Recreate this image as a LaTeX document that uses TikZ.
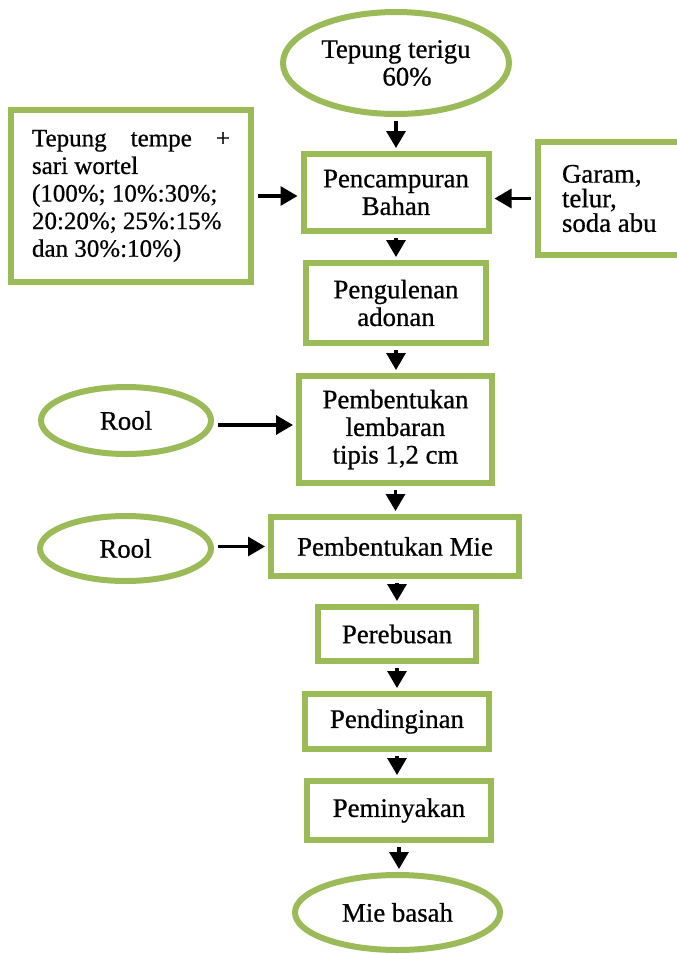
\documentclass[tikz,border=0pt]{standalone}
\usepackage{fontspec}
\setmainfont{Liberation Serif}[FakeBold=0.7]
\usetikzlibrary{shapes.geometric,arrows.meta,calc}

\definecolor{Bingkai}{HTML}{9BBB59}

\begin{document}
\begin{tikzpicture}[x=0.5pt, y=-0.5pt,
  kotak/.style={draw=Bingkai, line width=3pt, rectangle, align=center, inner sep=0pt, font=\fontsize{13.4}{13.8}\selectfont},
  oval/.style={draw=Bingkai, line width=3pt, ellipse, align=center, inner sep=0pt, font=\fontsize{13.4}{13.8}\selectfont},
  panah/.style={-{Triangle[width=9.5pt,length=8.5pt]}, line width=1.6pt, shorten <=2pt, shorten >=1.5pt}]

  \useasboundingbox (0,0) rectangle (676,954);

  %%%%%%%%%%%%%%%% BAHAN %%%%%%%%%%%%%%%%
  \node[oval, minimum width=113pt, minimum height=51pt] (terigu) at (396,63) {Tepung terigu\\\hspace*{11pt}60\%};
  \node[kotak, minimum width=120pt, minimum height=86pt, text width=99pt, align=flush left, font=\fontsize{12.5}{13.8}\selectfont] (tempe) at (131,196)
    {Tepung\hfill tempe\hfill +\\sari wortel\\(100\%; 10\%:30\%;\\20:20\%; 25\%:15\%\\dan 30\%:10\%)};
  \node[kotak, minimum width=76pt, minimum height=56.5pt, text width=52pt, inner xsep=12pt, align=flush left, font=\fontsize{13.4}{12.3}\selectfont] (garam) at (614,198.5) {Garam,\\telur,\\soda abu};

  %%%%%%%%%%%%%%%% PROSES %%%%%%%%%%%%%%%%
  \node[kotak, minimum width=92.5pt, minimum height=38.5pt] (campur) at (396,192.5) {Pencampuran\\Bahan};
  \node[kotak, minimum width=90pt, minimum height=40pt] (uleni) at (396,303) {Pengulenan\\adonan};
  \node[kotak, minimum width=96.5pt, minimum height=53.5pt] (lembar) at (395.5,429.5) {Pembentukan\\lembaran\\tipis 1,2 cm};
  \node[oval, minimum width=85pt, minimum height=33.5pt] (roolA) at (126,420.5) {Rool};
  \node[kotak, minimum width=124pt, minimum height=29.5pt] (bentukmie) at (395,546.5) {Pembentukan Mie};
  \node[oval, minimum width=85.5pt, minimum height=32.5pt] (roolB) at (125.5,548.5) {Rool};
  \node[kotak, minimum width=79pt, minimum height=27pt] (rebus) at (397,634) {Perebusan};
  \node[kotak, minimum width=92pt, minimum height=27.5pt] (dingin) at (397,721.5) {Pendinginan};
  \node[kotak, minimum width=92pt, minimum height=29.5pt] (minyak) at (399,810.5) {Peminyakan};
  \node[oval, minimum width=102.5pt, minimum height=37.5pt] (basah) at (397.5,912.5) {Mie basah};

  % Panah
  \draw[panah] (terigu.south) -- (terigu.south |- campur.north);
  \draw[panah] (tempe.east) -- (tempe.east -| campur.west);
  \draw[panah] (garam.west) -- (garam.west -| campur.east);
  \draw[panah] (campur.south) -- (campur.south |- uleni.north);
  \draw[panah] (uleni.south) -- (uleni.south |- lembar.north);
  \coordinate (tengahA) at ($(roolA.east)!0.5!(lembar.west)$);
  \draw[panah] (roolA.east |- tengahA) -- (lembar.west |- tengahA);
  \draw[panah] (lembar.south) -- (lembar.south |- bentukmie.north);
  \draw[panah] (roolB.east |- bentukmie.west) -- (bentukmie.west);
  \draw[panah] (rebus.north |- bentukmie.south) -- (rebus.north);
  \draw[panah] (rebus.south) -- (rebus.south |- dingin.north);
  \draw[panah] (dingin.south) -- (dingin.south |- minyak.north);
  \draw[panah] (minyak.south) -- (minyak.south |- basah.north);

\end{tikzpicture}
\end{document}
